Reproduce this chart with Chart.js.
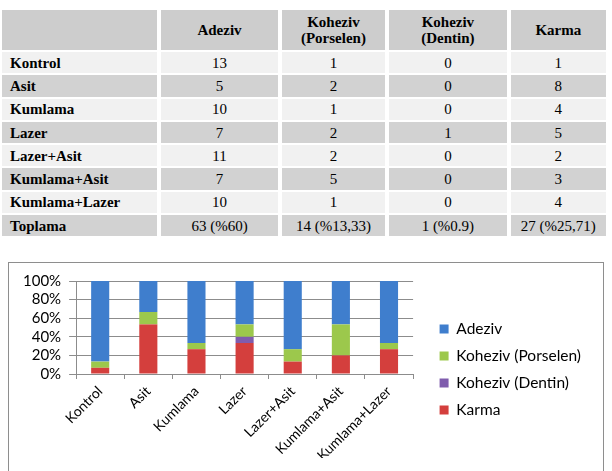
<!DOCTYPE html>
<html>
<head>
<meta charset="utf-8">
<script src="https://cdn.jsdelivr.net/npm/chart.js@4.4.0/dist/chart.umd.min.js"></script>
<style>
  body { margin: 0; background: #fff; width: 612px; height: 471px; overflow: hidden; position: relative; }
  #tbl { position: absolute; left: -2px; top: 8px; border-collapse: separate; border-spacing: 4px 2px;
         table-layout: fixed; font-family: "Liberation Serif", "Times New Roman", serif; font-size: 15px; color: #000; }
  #tbl th, #tbl td { padding: 0; text-align: center; vertical-align: middle; }
  #tbl th { height: 40px; background: #cdcdcd; font-weight: bold; line-height: 16px; }
  #tbl td { height: 21.3px; line-height: 16px; }
  #tbl td.name { text-align: left; padding-left: 8px; font-weight: bold; }
  #tbl tr.light td { background: #f1f1f1; }
  #tbl tr.dark td { background: #d2d2d2; }
  #box { position: absolute; left: 8px; top: 262px; width: 594px; height: 240px; border: 1px solid #8e8e8e; background: #fff; }
</style>
</head>
<body>
<table id="tbl">
  <colgroup>
    <col style="width:156px"><col style="width:118px"><col style="width:104px"><col style="width:119px"><col style="width:96px">
  </colgroup>
  <thead>
    <tr><th></th><th>Adeziv</th><th>Koheziv<br>(Porselen)</th><th>Koheziv<br>(Dentin)</th><th>Karma</th></tr>
  </thead>
  <tbody id="tbody"></tbody>
</table>
<div id="box"><canvas id="failChart" width="594" height="240"></canvas></div>
<script>
var categories = ['Kontrol', 'Asit', 'Kumlama', 'Lazer', 'Lazer+Asit', 'Kumlama+Asit', 'Kumlama+Lazer'];
var adeziv = [13, 5, 10, 7, 11, 7, 10];
var kohezivPorselen = [1, 2, 1, 2, 2, 5, 1];
var kohezivDentin = [0, 0, 0, 1, 0, 0, 0];
var karma = [1, 8, 4, 5, 2, 3, 4];
var totalRow = ['Toplama', '63 (%60)', '14 (%13,33)', '1 (%0.9)', '27 (%25,71)'];
var yTicks = [0, 20, 40, 60, 80, 100];

function buildTable() {
  var tbody = document.getElementById('tbody');
  var html = '';
  for (var i = 0; i < categories.length; i++) {
    html += '<tr class="' + (i % 2 == 0 ? 'light' : 'dark') + '">' +
      '<td class="name">' + categories[i] + '</td>' +
      '<td>' + adeziv[i] + '</td><td>' + kohezivPorselen[i] + '</td>' +
      '<td>' + kohezivDentin[i] + '</td><td>' + karma[i] + '</td></tr>';
  }
  html += '<tr class="dark"><td class="name">' + totalRow[0] + '</td>';
  for (var j = 1; j < totalRow.length; j++) html += '<td>' + totalRow[j] + '</td>';
  html += '</tr>';
  tbody.innerHTML = html;
}

// share of each failure type within a group (100% stacked)
function percent(values) {
  return values.map(function(v, i) {
    var sum = adeziv[i] + kohezivPorselen[i] + kohezivDentin[i] + karma[i];
    return v / sum * 100;
  });
}

function drawFailChart() {
  Chart.defaults.font.family = 'Lato';
  Chart.defaults.color = '#000';
  var gridColor = '#8c8c8c';

  var ctx = document.getElementById('failChart').getContext('2d');
  var failChart = new Chart(ctx, {
      type: 'bar',
      data: {
          labels: categories,
          datasets: [{
              label: 'Karma',
              data: percent(karma),
              backgroundColor: '#d43f3d'
          }, {
              label: 'Koheziv (Dentin)',
              data: percent(kohezivDentin),
              backgroundColor: '#7f5cad'
          }, {
              label: 'Koheziv (Porselen)',
              data: percent(kohezivPorselen),
              backgroundColor: '#9cc84c'
          }, {
              label: 'Adeziv',
              data: percent(adeziv),
              backgroundColor: '#3f7ecd'
          }]
      },
      options: {
          responsive: false,
          animation: false,
          devicePixelRatio: 1,
          categoryPercentage: 0.8,
          barPercentage: 0.47,
          layout: { padding: { left: 6, top: 18, right: 12, bottom: 45 } },
          plugins: {
              tooltip: { enabled: false },
              legend: {
                  position: 'right',
                  reverse: true,
                  maxWidth: 260,
                  labels: {
                      boxWidth: 9,
                      boxHeight: 9,
                      padding: 11.5,
                      font: { size: 15.5 }
                  }
              }
          },
          scales: {
              x: {
                  stacked: true,
                  grid: { offset: true, drawOnChartArea: false, tickLength: 5, color: gridColor },
                  border: { color: gridColor },
                  ticks: { minRotation: 45, maxRotation: 45, padding: 4, font: { size: 14 } },
                  afterFit: function(s) { s.height = 84; }
              },
              y: {
                  stacked: true,
                  min: 0,
                  max: 100,
                  afterBuildTicks: function(s) { s.ticks = yTicks.map(function(v) { return { value: v }; }); },
                  grid: { color: gridColor, tickLength: 7 },
                  border: { color: gridColor },
                  ticks: { autoSkip: false, padding: 8, font: { size: 15 }, callback: function(v) { return v + '%'; } }
              },
              gap: {
                  type: 'linear',
                  axis: 'y',
                  position: 'right',
                  display: true,
                  grid: { display: false },
                  border: { display: false },
                  ticks: { display: false },
                  afterFit: function(s) { s.width = 15; }
              }
          }
      }
  });
}

buildTable();
drawFailChart();
</script>
</body>
</html>
